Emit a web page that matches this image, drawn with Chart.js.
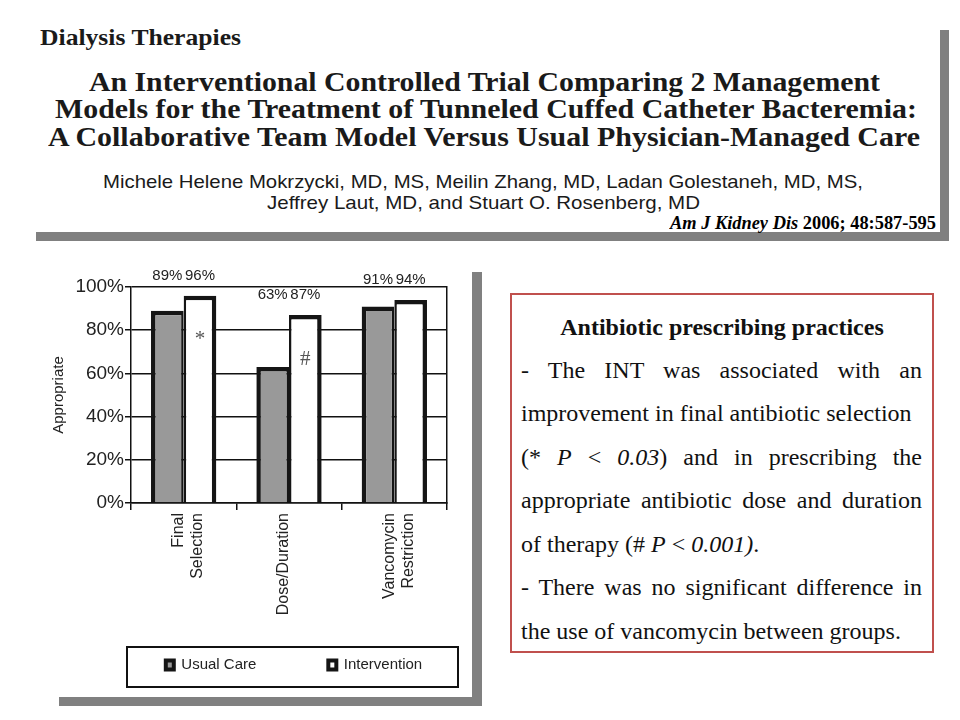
<!DOCTYPE html>
<html>
<head>
<meta charset="utf-8">
<script src="https://cdn.jsdelivr.net/npm/chart.js@4.4.1/dist/chart.umd.min.js"></script>
<style>
  body { margin:0; width:960px; height:720px; background:#fff; position:relative; overflow:hidden; }
  .ln { position:absolute; white-space:nowrap; line-height:1; transform-origin:0 50%; color:#1a1a1a; }
  .serif { font-family:"Liberation Serif","Times New Roman",serif; }
  .sans { font-family:"Liberation Sans",Arial,sans-serif; }
  .shade { position:absolute; background:#808080; }
  #chartWrap { position:absolute; left:40px; top:262px; width:508px; height:435px; }
  #box { position:absolute; left:510px; top:293px; width:420px; height:356px; border:2px solid #c0504d; background:#fff;
         font-family:"Liberation Serif","Times New Roman",serif; font-size:24px; color:#111; z-index:2; }
  #box div { position:absolute; left:9px; width:401px; height:30px; line-height:30px; white-space:nowrap; }
  #box .j { text-align:justify; text-align-last:justify; white-space:normal; }
</style>
</head>
<body>

<!-- header panel -->
<div class="shade" style="left:940px;top:30px;width:9px;height:211px"></div>
<div class="shade" style="left:36px;top:232px;width:913px;height:9px"></div>
<div class="ln serif" data-w="201" style="left:40px;top:25px;font-size:24px;font-weight:bold">Dialysis Therapies</div>
<div class="ln serif" data-w="791" style="left:89px;top:69px;font-size:27px;font-weight:bold">An Interventional Controlled Trial Comparing 2 Management</div>
<div class="ln serif" data-w="862" style="left:55px;top:96px;font-size:27px;font-weight:bold">Models for the Treatment of Tunneled Cuffed Catheter Bacteremia:</div>
<div class="ln serif" data-w="872" style="left:48px;top:124px;font-size:27px;font-weight:bold">A Collaborative Team Model Versus Usual Physician-Managed Care</div>
<div class="ln sans" data-w="760" style="left:103px;top:172px;font-size:19px">Michele Helene Mokrzycki, MD, MS, Meilin Zhang, MD, Ladan Golestaneh, MD, MS,</div>
<div class="ln sans" data-w="433" style="left:267px;top:193px;font-size:19px">Jeffrey Laut, MD, and Stuart O. Rosenberg, MD</div>
<div class="ln serif" data-w="266" style="left:670px;top:213px;font-size:19px;font-weight:bold;color:#000"><i>Am J Kidney Dis</i> 2006; 48:587-595</div>

<!-- chart panel -->
<div class="shade" style="left:472px;top:272px;width:10px;height:434px"></div>
<div class="shade" style="left:59px;top:697px;width:423px;height:9px"></div>
<div id="chartWrap"><canvas id="c" width="508" height="435"></canvas></div>

<!-- text box -->
<div id="box">
  <div style="top:17px;text-align:center;font-weight:bold;left:0;width:420px">Antibiotic prescribing practices</div>
  <div class="j" style="top:60px">- The INT was associated with an</div>
  <div style="top:103px">improvement in final antibiotic selection</div>
  <div class="j" style="top:147px">(* <i>P</i> &lt; <i>0.03</i>) and in prescribing the</div>
  <div class="j" style="top:190px">appropriate antibiotic dose and duration</div>
  <div style="top:234px">of therapy (# <i>P</i> &lt; <i>0.001)</i>.</div>
  <div class="j" style="top:277px">- There was no significant difference in</div>
  <div style="top:321px">the use of vancomycin between groups.</div>
</div>

<script>
// stretch header lines to the widths in the slide
document.querySelectorAll('.ln[data-w]').forEach(el => {
  const w = el.getBoundingClientRect().width;
  el.style.transform = 'scaleX(' + (+el.dataset.w / w) + ')';
});

const categories = [['Final', 'Selection'], 'Dose/Duration', ['Vancomycin', 'Restriction']];
const usualCare = [89, 63, 91];
const intervention = [96, 87, 94];
const yTicks = [0, 20, 40, 60, 80, 100];
const sigMarks = ['*', '#', ''];

Chart.defaults.font.family = '"Liberation Sans", Arial, sans-serif';
Chart.defaults.color = '#222';

// value labels, significance marks and the legend frame
const barText = {
  id: 'barText',
  afterLayout(chart) {
    // the rotated category labels run past the x box; don't clip them
    chart.scales.x.bottom = chart.height;
  },
  afterDatasetsDraw(chart) {
    const ctx = chart.ctx, y = chart.scales.y;
    const m0 = chart.getDatasetMeta(0), m1 = chart.getDatasetMeta(1);
    ctx.save();
    ctx.textAlign = 'center';
    ctx.textBaseline = 'middle';
    categories.forEach((c, i) => {
      const ty = y.getPixelForValue(Math.max(usualCare[i], intervention[i])) - 20;
      ctx.font = '15px "Liberation Sans", Arial, sans-serif';
      ctx.fillStyle = '#222';
      ctx.fillText(usualCare[i] + '%', m0.data[i].x, ty);
      ctx.fillText(intervention[i] + '%', m1.data[i].x, ty);
      if (sigMarks[i]) {
        ctx.font = '21px "Liberation Serif", serif';
        ctx.fillStyle = '#555';
        ctx.fillText(sigMarks[i], m1.data[i].x, m1.data[i].y + 44);
      }
    });
    const hb = chart.legend.legendHitBoxes[0];
    const mid = hb.top + hb.height / 2;
    const a = chart.chartArea;
    ctx.lineWidth = 2;
    ctx.strokeStyle = '#111';
    ctx.strokeRect(a.left - 4, mid - 18, a.right - a.left + 15, 40);
    ctx.restore();
  }
};

new Chart(document.getElementById('c'), {
  type: 'bar',
  data: {
    labels: categories,
    datasets: [
      { label: 'Usual Care', data: usualCare, backgroundColor: '#999999', borderColor: '#151515',
        borderWidth: { top: 4.5, left: 4.5, right: 2.5, bottom: 0 } },
      { label: 'Intervention', data: intervention, backgroundColor: '#ffffff', borderColor: '#151515',
        borderWidth: { top: 4.5, left: 2.5, right: 4.5, bottom: 0 } }
    ]
  },
  options: {
    responsive: false,
    animation: false,
    layout: { padding: { top: 25, bottom: 14.5, left: 0, right: 0 } },
    datasets: { bar: { categoryPercentage: 0.62, barPercentage: 1 } },
    plugins: {
      tooltip: { enabled: false },
      legend: {
        position: 'bottom',
        labels: {
          font: { size: 15 }, color: '#222', boxWidth: 8, boxHeight: 9, padding: 72,
          generateLabels: chart => Chart.defaults.plugins.legend.labels.generateLabels(chart)
            .map(l => Object.assign(l, { lineWidth: 4 }))
        }
      }
    },
    scales: {
      x: {
        grid: { drawOnChartArea: false, color: '#111', lineWidth: 1.5, tickLength: 7 },
        border: { color: '#111', width: 1.5 },
        ticks: { minRotation: 90, maxRotation: 90, autoSkip: false, padding: 3, labelOffset: -5, font: { size: 16 } },
        afterFit(s) { s.height = 82.5; }
      },
      y: {
        min: 0, max: 100,
        afterBuildTicks(s) { s.ticks = yTicks.map(v => ({ value: v })); },
        grid: { color: '#111', lineWidth: 1.5, tickLength: 6 },
        border: { color: '#111', width: 1.5 },
        ticks: { padding: 1, font: { size: 19 }, callback: v => v + '%' },
        title: { display: true, text: 'Appropriate', font: { size: 15 }, padding: { top: 10, bottom: 0 } },
        afterFit(s) { s.width = 91; }
      },
      y2: {
        position: 'right', min: 0, max: 100,
        grid: { display: false },
        ticks: { display: false },
        border: { display: true, color: '#111', width: 1.5 },
        afterFit(s) { s.width = 101; }
      }
    }
  },
  plugins: [barText]
});
</script>
</body>
</html>
